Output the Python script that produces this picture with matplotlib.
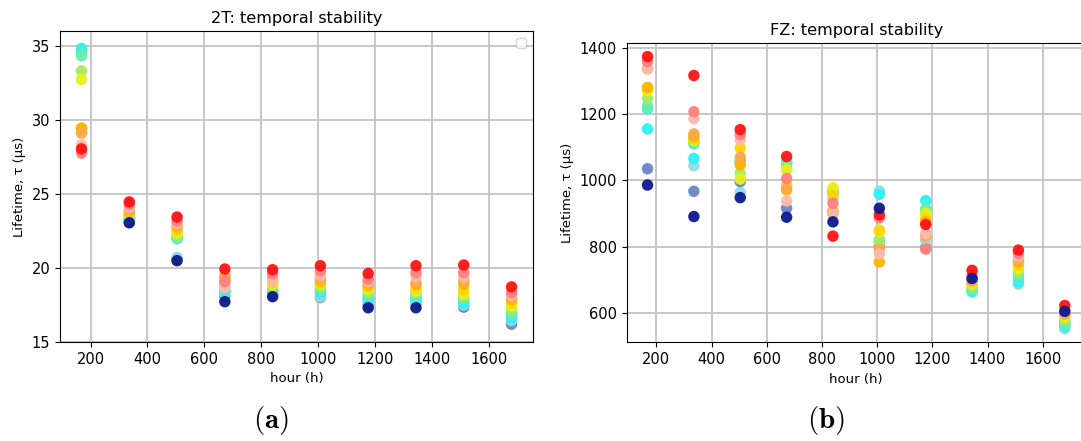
import matplotlib
matplotlib.use('Agg')
import matplotlib.pyplot as plt
import numpy as np

nan = np.nan

# measurement times (hours)
hours = [168, 336, 504, 672, 840, 1008, 1176, 1344, 1512, 1680]

# one colour per sample
colors = ['#0c1a8c', '#6b86c6', '#8fdce8', '#2ef2f5', '#45efd8', '#66f0b0', '#a5ea62',
          '#e8f01e', '#ffd500', '#ffb400', '#fcaa4a', '#ffb9aa', '#ff8080', '#ff1515']
names = ['navy', 'steelblue', 'lightblue', 'cyan', 'turquoise', 'aquamarine', 'lightgreen',
         'yellow', 'gold', 'orange', 'sandy', 'peach', 'lightcoral', 'red']

# 2T lifetimes (us)
t2 = {
    'navy':       [nan, 23.05, 20.49, 17.72, 18.06, nan, 17.31, 17.31, nan, nan],
    'steelblue':  [nan, 23.1, 20.6, 18.1, 18.2, 18.0, 17.54, 17.6, 17.35, 16.2],
    'lightblue':  [nan, 23.25, 20.71, 18.3, 18.3, 18.05, 17.7, 17.7, 17.5, 16.45],
    'cyan':       [34.82, 23.4, 21.97, 18.45, 18.4, 18.33, 17.88, 17.88, 17.61, 16.63],
    'turquoise':  [34.6, 23.45, 22.0, 18.6, 18.45, 18.45, 18.0, 18.0, 17.8, 16.8],
    'aquamarine': [34.32, 23.5, 22.07, 18.8, 18.5, 18.6, 18.2, 18.2, 17.95, 16.95],
    'lightgreen': [33.3, 23.55, 22.2, 19.0, 18.7, 18.75, 18.4, 18.35, 18.1, 17.2],
    'yellow':     [32.73, 23.6, 22.35, 19.2, 18.9, 18.9, 18.56, 18.45, 18.22, 17.43],
    'gold':       [29.4, 23.7, 22.55, 19.3, 19.0, 19.0, 18.7, 18.65, 18.5, 17.65],
    'orange':     [29.45, 23.9, 22.76, 19.47, 19.3, 19.13, 18.85, 18.9, 18.9, 17.88],
    'sandy':      [29.1, 23.8, 22.9, 19.4, 19.2, 19.3, 19.0, 19.0, 19.1, 18.0],
    'peach':      [28.3, 24.1, 23.0, 18.67, 19.13, 19.5, 19.1, 19.4, 19.4, 18.15],
    'lightcoral': [27.75, 24.3, 23.16, 19.08, 19.6, 19.81, 19.24, 19.69, 19.69, 18.33],
    'red':        [28.04, 24.46, 23.44, 19.93, 19.88, 20.15, 19.63, 20.15, 20.2, 18.72],
}

# FZ lifetimes (us)
fz = {
    'navy':       [986, 891, 948, 889, 875, 916, nan, 704, nan, 605],
    'steelblue':  [1035, 967, 996, 916, 900, 800, 797, 690, nan, 575],
    'lightblue':  [nan, 1044, 963, nan, 945, 968, 820, 668, 687, 553],
    'cyan':       [1155, 1066, 1060, 1050, 960, 958, 939, 664, 694, 560],
    'turquoise':  [1215, 1110, 1055, 1054, 965, 820, 913, 670, 704, 565],
    'aquamarine': [1225, 1115, 1050, 1058, 970, 815, 913, 671, 714, 570],
    'lightgreen': [1247, 1118, 1022, 1035, 972, 815, 905, 679, 724, 578],
    'yellow':     [1269, 1120, 1004, 1032, 978, 845, 899, 689, 734, 588],
    'gold':       [1279, 1125, 1098, 986, 956, 850, 883, 695, 744, 595],
    'orange':     [1280, 1133, 1047, 971, 906, 754, 875, 698, 754, 597],
    'sandy':      [1336, 1140, 1070, 975, 906, 793, 832, 700, 760, 600],
    'peach':      [1338, 1186, 1123, 938, 899, 778, 840, 702, 770, 602],
    'lightcoral': [1358, 1207, 1138, 1006, 931, 887, 793, 715, 780, 609],
    'red':        [1373, 1316, 1153, 1072, 832, 896, 867, 729, 790, 623],
}

plt.rcParams['font.size'] = 9.5
plt.rcParams['mathtext.fontset'] = 'cm'

fig = plt.figure(figsize=(10.81, 4.41), dpi=100)
ax1 = fig.add_axes([0.0555, 0.2245, 0.4376, 0.7052])
ax2 = fig.add_axes([0.5797, 0.2238, 0.4246, 0.6787])

# draw navy last so it sits on top
order = names[1:] + names[:1]

for ax, data, title in [(ax1, t2, '2T: temporal stability'), (ax2, fz, 'FZ: temporal stability')]:
    for n in order:
        c = colors[names.index(n)]
        ax.scatter(hours, data[n], color=c, s=68, alpha=0.95, edgecolors='none', zorder=3)
    ax.set_title(title, fontsize=11.6)
    ax.set_xlabel('hour (h)')
    ax.set_ylabel('Lifetime, τ (µs)')
    ax.set_xticks([200, 400, 600, 800, 1000, 1200, 1400, 1600])
    ax.tick_params(labelsize=10.5)
    ax.grid(True, color='#c4c4c4', linewidth=1.3)
    ax.set_axisbelow(True)

ax1.set_ylim(15, 36)
ax1.set_yticks([15, 20, 25, 30, 35])
ax1.legend(handles=[], loc='upper right')

ax2.set_yticks([600, 800, 1000, 1200, 1400])

fig.text(0.251, 0.03, r'$\mathbf{(a)}$', ha='center', fontsize=21)
fig.text(0.764, 0.03, r'$\mathbf{(b)}$', ha='center', fontsize=21)

fig.savefig('out.png', dpi=100)
